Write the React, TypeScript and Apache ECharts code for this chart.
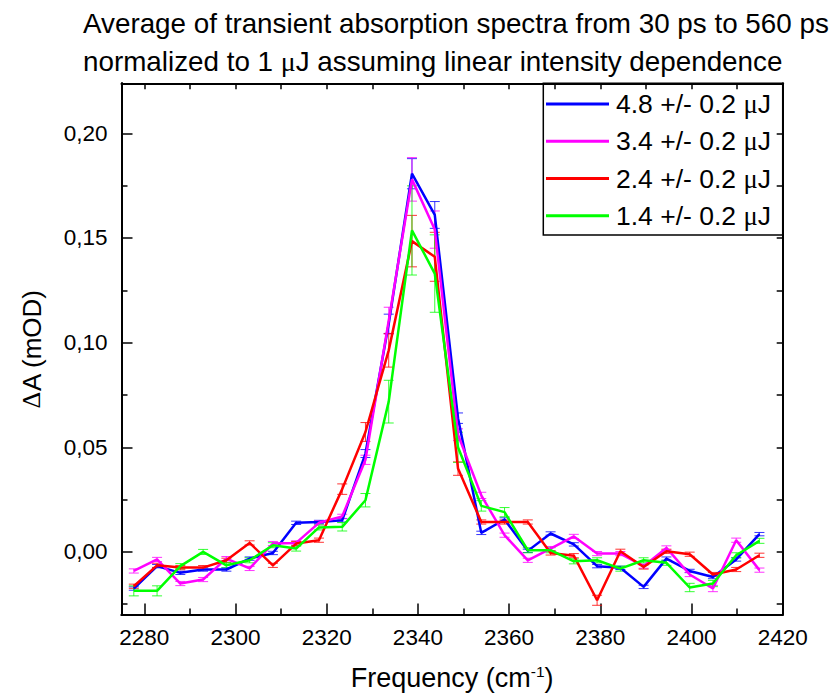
import React, { useEffect, useRef } from "react";
import * as echarts from "echarts";

const frequency = [
  2277.7, 2282.8, 2287.9, 2292.9, 2298.0, 2303.1, 2308.2, 2313.3, 2318.3, 2323.4,
  2328.5, 2333.6, 2338.7, 2343.7, 2348.8, 2353.9, 2359.0, 2364.1, 2369.1, 2374.2,
  2379.3, 2384.4, 2389.5, 2394.5, 2399.6, 2404.7, 2409.8, 2414.9,
];

const seriesNames = ["4.8 +/- 0.2 μJ", "3.4 +/- 0.2 μJ", "2.4 +/- 0.2 μJ", "1.4 +/- 0.2 μJ"];
const seriesColors = ["#0000FF", "#FF00FF", "#FF0000", "#00FF00"];

const values48 = [
  -0.0175, -0.0068, -0.0100, -0.0084, -0.0084, -0.0032, -0.0005, 0.0139, 0.0143, 0.0151,
  0.0470, 0.1090, 0.1807, 0.1610, 0.0639, 0.0091, 0.0155, 0.0005, 0.0088, 0.0036,
  -0.0068, -0.0076, -0.0167, -0.0032, -0.0091, -0.0120, -0.0036, 0.0085,
];
const errors48 = [
  0.0008, 0.0008, 0.0008, 0.0008, 0.0008, 0.0008, 0.0008, 0.0008, 0.0008, 0.0008,
  0.0019, 0.0046, 0.0072, 0.0064, 0.0025, 0.0008, 0.0008, 0.0008, 0.0008, 0.0008,
  0.0008, 0.0008, 0.0008, 0.0008, 0.0008, 0.0008, 0.0008, 0.0008,
];

const values34 = [
  -0.0091, -0.0036, -0.0151, -0.0132, -0.0032, -0.0079, 0.0040, 0.0043, 0.0139, 0.0170,
  0.0440, 0.1105, 0.1780, 0.1540, 0.0560, 0.0270, 0.0080, -0.0040, 0.0016, 0.0074,
  -0.0008, -0.0008, -0.0068, 0.0019, -0.0108, -0.0175, 0.0056, -0.0087,
];
const errors34 = [
  0.0010, 0.0010, 0.0010, 0.0010, 0.0010, 0.0010, 0.0010, 0.0010, 0.0010, 0.0010,
  0.0022, 0.0064, 0.0104, 0.0089, 0.0028, 0.0015, 0.0010, 0.0010, 0.0010, 0.0010,
  0.0010, 0.0010, 0.0010, 0.0010, 0.0010, 0.0015, 0.0010, 0.0010,
];

const values24 = [
  -0.0164, -0.0064, -0.0075, -0.0075, -0.0040, 0.0043, -0.0064, 0.0040, 0.0056, 0.0300,
  0.0573, 0.0963, 0.1485, 0.1410, 0.0398, 0.0143, 0.0143, 0.0143, -0.0005, -0.0018,
  -0.0231, 0.0003, -0.0072, 0.0003, -0.0011, -0.0108, -0.0084, -0.0016,
];
const errors24 = [
  0.0010, 0.0010, 0.0010, 0.0010, 0.0010, 0.0010, 0.0010, 0.0010, 0.0010, 0.0025,
  0.0045, 0.0080, 0.0123, 0.0117, 0.0032, 0.0010, 0.0010, 0.0010, 0.0010, 0.0010,
  0.0024, 0.0010, 0.0010, 0.0010, 0.0010, 0.0010, 0.0010, 0.0010,
];

const values14 = [
  -0.0186, -0.0186, -0.0068, 0.0000, -0.0064, -0.0040, 0.0032, 0.0016, 0.0117, 0.0120,
  0.0247, 0.0718, 0.1536, 0.1330, 0.0500, 0.0220, 0.0190, 0.0008, 0.0008, -0.0045,
  -0.0040, -0.0080, -0.0040, -0.0052, -0.0170, -0.0151, -0.0016, 0.0053,
];
const errors14 = [
  0.0024, 0.0024, 0.0012, 0.0012, 0.0012, 0.0012, 0.0012, 0.0012, 0.0012, 0.0020,
  0.0032, 0.0102, 0.0213, 0.0185, 0.0072, 0.0025, 0.0022, 0.0012, 0.0012, 0.0012,
  0.0012, 0.0012, 0.0012, 0.0012, 0.0020, 0.0015, 0.0012, 0.0012,
];

const xMajorTicks = [2280, 2300, 2320, 2340, 2360, 2380, 2400, 2420];
const xMinorTicks = [2290, 2310, 2330, 2350, 2370, 2390, 2410];
const xAllTicks = [2280, 2290, 2300, 2310, 2320, 2330, 2340, 2350, 2360, 2370, 2380, 2390, 2400, 2410, 2420];
const yMajorTicks = [0, 0.05, 0.1, 0.15, 0.2];
const yMinorTicks = [-0.025, 0.025, 0.075, 0.125, 0.175];
const yAllTicks = [-0.025, 0, 0.025, 0.05, 0.075, 0.1, 0.125, 0.15, 0.175, 0.2];

const X_MIN = 2275;
const X_MAX = 2420;
const Y_MIN = -0.0299;
const Y_MAX = 0.2239;

const FONT = "'Liberation Sans', Arial, sans-serif";
const SERIF = "'Liberation Serif', 'Times New Roman', serif";

const allValues = [values48, values34, values24, values14];
const allErrors = [errors48, errors34, errors24, errors14];

export default function App() {
  const ref = useRef<HTMLDivElement>(null);

  useEffect(() => {
    if (!ref.current) return;
    const chart = echarts.init(ref.current, undefined, { renderer: "svg" });

    const axisLineStyle = { color: "#000", width: 2 };
    const tickLineStyle = { color: "#000", width: 1.5 };

    const baseX = {
      type: "value" as const,
      min: X_MIN,
      max: X_MAX,
      splitLine: { show: false },
      axisLine: { show: true, onZero: false, lineStyle: axisLineStyle },
    };
    const baseY = {
      type: "value" as const,
      min: Y_MIN,
      max: Y_MAX,
      splitLine: { show: false },
      axisLine: { show: true, onZero: false, lineStyle: axisLineStyle },
    };

    const series: any[] = [];
    seriesNames.forEach((name, k) => {
      const color = seriesColors[k];
      const vals = allValues[k];
      const errs = allErrors[k];
      series.push({
        type: "line",
        name,
        xAxisIndex: 0,
        yAxisIndex: 0,
        data: frequency.map((x, i) => [x, vals[i]]),
        symbol: "none",
        showSymbol: false,
        lineStyle: { color, width: 2.5 },
        itemStyle: { color },
        z: 3,
      });
      series.push({
        type: "custom",
        name: "err" + k,
        xAxisIndex: 0,
        yAxisIndex: 0,
        data: frequency.map((x, i) => [x, vals[i], errs[i]]),
        encode: { x: 0, y: 1 },
        z: 3,
        renderItem: (_params: any, api: any) => {
          const x = api.value(0);
          const y = api.value(1);
          const e = api.value(2);
          const top = api.coord([x, y + e]);
          const bot = api.coord([x, y - e]);
          const hw = 5;
          const style = { stroke: color, lineWidth: 1, opacity: 0.8 };
          return {
            type: "group",
            children: [
              { type: "line", shape: { x1: top[0], y1: top[1], x2: bot[0], y2: bot[1] }, style },
              { type: "line", shape: { x1: top[0] - hw, y1: top[1], x2: top[0] + hw, y2: top[1] }, style },
              { type: "line", shape: { x1: bot[0] - hw, y1: bot[1], x2: bot[0] + hw, y2: bot[1] }, style },
            ],
          };
        },
      });
    });

    chart.setOption({
      animation: false,
      backgroundColor: "#fff",
      title: {
        text:
          "Average of transient absorption spectra from 30 ps to 560 ps\nnormalized to 1 {mu|μ}J assuming linear intensity dependence",
        left: 83,
        top: 4,
        padding: 0,
        textStyle: {
          fontFamily: FONT,
          fontSize: 27.8,
          fontWeight: "normal",
          color: "#000",
          lineHeight: 38,
          rich: {
            mu: { fontFamily: SERIF, fontSize: 27.8, color: "#000", lineHeight: 38 },
          },
        },
      },
      legend: {
        data: seriesNames,
        orient: "vertical",
        left: 546,
        top: 85.3,
        padding: 0,
        itemGap: 0,
        itemWidth: 63,
        itemHeight: 3,
        icon: "rect",
        textStyle: {
          fontFamily: FONT,
          fontSize: 26.5,
          color: "#000",
          lineHeight: 37.3,
          padding: [0, 0, 0, 2],
          rich: {
            t: { fontFamily: FONT, fontSize: 26.5, color: "#000", lineHeight: 37.3 },
            mu: { fontFamily: SERIF, fontSize: 26.5, color: "#000", lineHeight: 37.3 },
          },
        },
        formatter: (n: string) => {
          const parts = n.split("μ");
          return "{t|" + parts[0] + "}{mu|μ}{t|" + parts[1] + "}";
        },
      },
      graphic: [
        {
          type: "rect",
          shape: { x: 543.3, y: 83.3, width: 239.4, height: 151.7 },
          style: { fill: "none", stroke: "#000", lineWidth: 1.5 },
          z: 10,
        },
      ],
      grid: { left: 121.5, right: 47.3, top: 83.3, bottom: 83.5, containLabel: false },
      xAxis: [
        {
          ...baseX,
          position: "bottom",
          name: "{a|Frequency (cm}{s|-1}{a|)}",
          nameLocation: "middle",
          nameGap: 49,
          nameTextStyle: {
            fontFamily: FONT,
            fontSize: 27,
            color: "#000",
            rich: {
              a: { fontFamily: FONT, fontSize: 27, color: "#000" },
              s: { fontFamily: FONT, fontSize: 15.5, color: "#000", verticalAlign: "top", padding: [0, 0, 12, 0] },
            },
          },
          axisTick: { show: true, inside: true, length: 11, customValues: xMajorTicks, lineStyle: tickLineStyle },
          axisLabel: {
            show: true,
            customValues: xMajorTicks,
            margin: 11,
            fontFamily: FONT,
            fontSize: 22.5,
            color: "#000",
            formatter: (v: number) => String(Math.round(v)),
          },
        },
        {
          ...baseX,
          position: "bottom",
          axisTick: { show: true, inside: true, length: 6, customValues: xMinorTicks, lineStyle: tickLineStyle },
          axisLabel: { show: false },
        },
        {
          ...baseX,
          position: "top",
          axisTick: { show: true, inside: true, length: 6, customValues: xAllTicks, lineStyle: tickLineStyle },
          axisLabel: { show: false },
        },
      ],
      yAxis: [
        {
          ...baseY,
          position: "left",
          name: "{d|Δ}A (mOD)",
          nameLocation: "middle",
          nameRotate: 90,
          nameGap: 77,
          nameTextStyle: {
            fontFamily: FONT,
            fontSize: 26,
            color: "#000",
            rich: {
              d: { fontFamily: SERIF, fontSize: 26, color: "#000" },
            },
          },
          axisTick: { show: true, inside: true, length: 11, customValues: yMajorTicks, lineStyle: tickLineStyle },
          axisLabel: {
            show: true,
            customValues: yMajorTicks,
            margin: 14,
            fontFamily: FONT,
            fontSize: 22.5,
            color: "#000",
            formatter: (v: number) => v.toFixed(2).replace(".", ","),
          },
        },
        {
          ...baseY,
          position: "left",
          axisTick: { show: true, inside: true, length: 6, customValues: yMinorTicks, lineStyle: tickLineStyle },
          axisLabel: { show: false },
        },
        {
          ...baseY,
          position: "right",
          axisTick: { show: true, inside: true, length: 6, customValues: yAllTicks, lineStyle: tickLineStyle },
          axisLabel: { show: false },
        },
      ],
      series,
    });

    return () => {
      chart.dispose();
    };
  }, []);

  return (
    <div
      ref={ref}
      style={{ position: "absolute", left: 0, top: 0, width: 830, height: 698, background: "#fff" }}
    />
  );
}
